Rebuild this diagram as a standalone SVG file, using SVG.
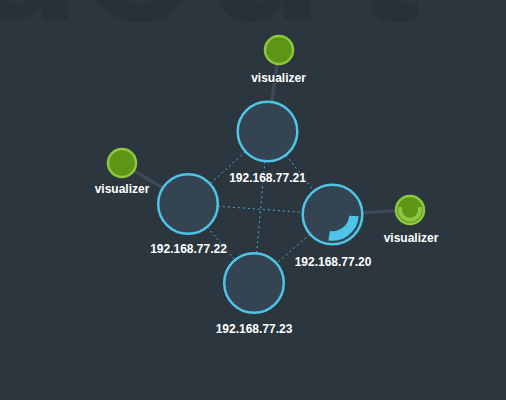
<svg xmlns="http://www.w3.org/2000/svg" width="506" height="400" viewBox="0 0 506 400">
<style>
.bgtext{font-family:"Liberation Sans",Arial,sans-serif;font-weight:bold;font-size:196px;fill:#263139}
.host circle{fill:#344452;stroke:#4ec5e8;stroke-width:2.5}
.viz circle{fill:#5d9516;stroke:#8dc63f;stroke-width:2.5}
.lbl{font-family:"Liberation Sans",Arial,sans-serif;font-weight:bold;font-size:12px;fill:#ffffff;text-anchor:middle;stroke:#2b363e;stroke-width:2;paint-order:stroke;stroke-linejoin:round}
.solid{stroke:#3d4955;stroke-width:3.5;fill:none}
.dash{stroke:#4ec5e8;stroke-width:1;stroke-dasharray:2 3;fill:none;opacity:0.85}
</style>
<rect x="0" y="0" width="506" height="400" fill="#2b363e"/>
<text class="bgtext" y="20"><tspan x="-38">d</tspan><tspan x="80">o</tspan><tspan x="204">u</tspan><tspan x="355">t</tspan></text>
<g id="connectors">
<line class="solid" x1="279" y1="50" x2="267.5" y2="131.5"/>
<line class="solid" x1="122" y1="163" x2="188" y2="204"/>
<line class="solid" x1="410" y1="210" x2="332.5" y2="214.5"/>
<line class="dash" x1="267.5" y1="131.5" x2="188" y2="204"/>
<line class="dash" x1="267.5" y1="131.5" x2="332.5" y2="214.5"/>
<line class="dash" x1="267.5" y1="131.5" x2="254" y2="283"/>
<line class="dash" x1="188" y1="204" x2="332.5" y2="214.5"/>
<line class="dash" x1="188" y1="204" x2="254" y2="283"/>
<line class="dash" x1="332.5" y1="214.5" x2="254" y2="283"/>
</g>
<g id="node-21" class="host">
<circle cx="267.5" cy="131.5" r="29.8"/>
<text class="lbl" x="267.5" y="181.5">192.168.77.21</text>
</g>
<g id="node-22" class="host">
<circle cx="188" cy="204" r="29.8"/>
<text class="lbl" x="188.5" y="253.3">192.168.77.22</text>
</g>
<g id="node-20" class="host">
<circle cx="332.5" cy="214.5" r="29.8"/>
<path d="M353.95 216 A21.5 21.5 0 0 1 329.14 235.74" fill="none" stroke="#4ec5e8" stroke-width="9.5"/>
<text class="lbl" x="333" y="265.7">192.168.77.20</text>
</g>
<g id="node-23" class="host">
<circle cx="254" cy="283" r="29.8"/>
<text class="lbl" x="254" y="333.3">192.168.77.23</text>
</g>
<g id="viz-top" class="viz">
<circle cx="279" cy="50" r="14"/>
<text class="lbl" x="278.5" y="82">visualizer</text>
</g>
<g id="viz-left" class="viz">
<circle cx="122" cy="163" r="14"/>
<text class="lbl" x="122" y="193.3">visualizer</text>
</g>
<g id="viz-right" class="viz">
<circle cx="410" cy="210" r="14"/>
<path d="M400.5 207 A9.9 9.9 0 1 0 419.5 207" fill="none" stroke="#8dc63f" stroke-width="4"/>
<text class="lbl" x="411" y="241.7">visualizer</text>
</g>
</svg>
